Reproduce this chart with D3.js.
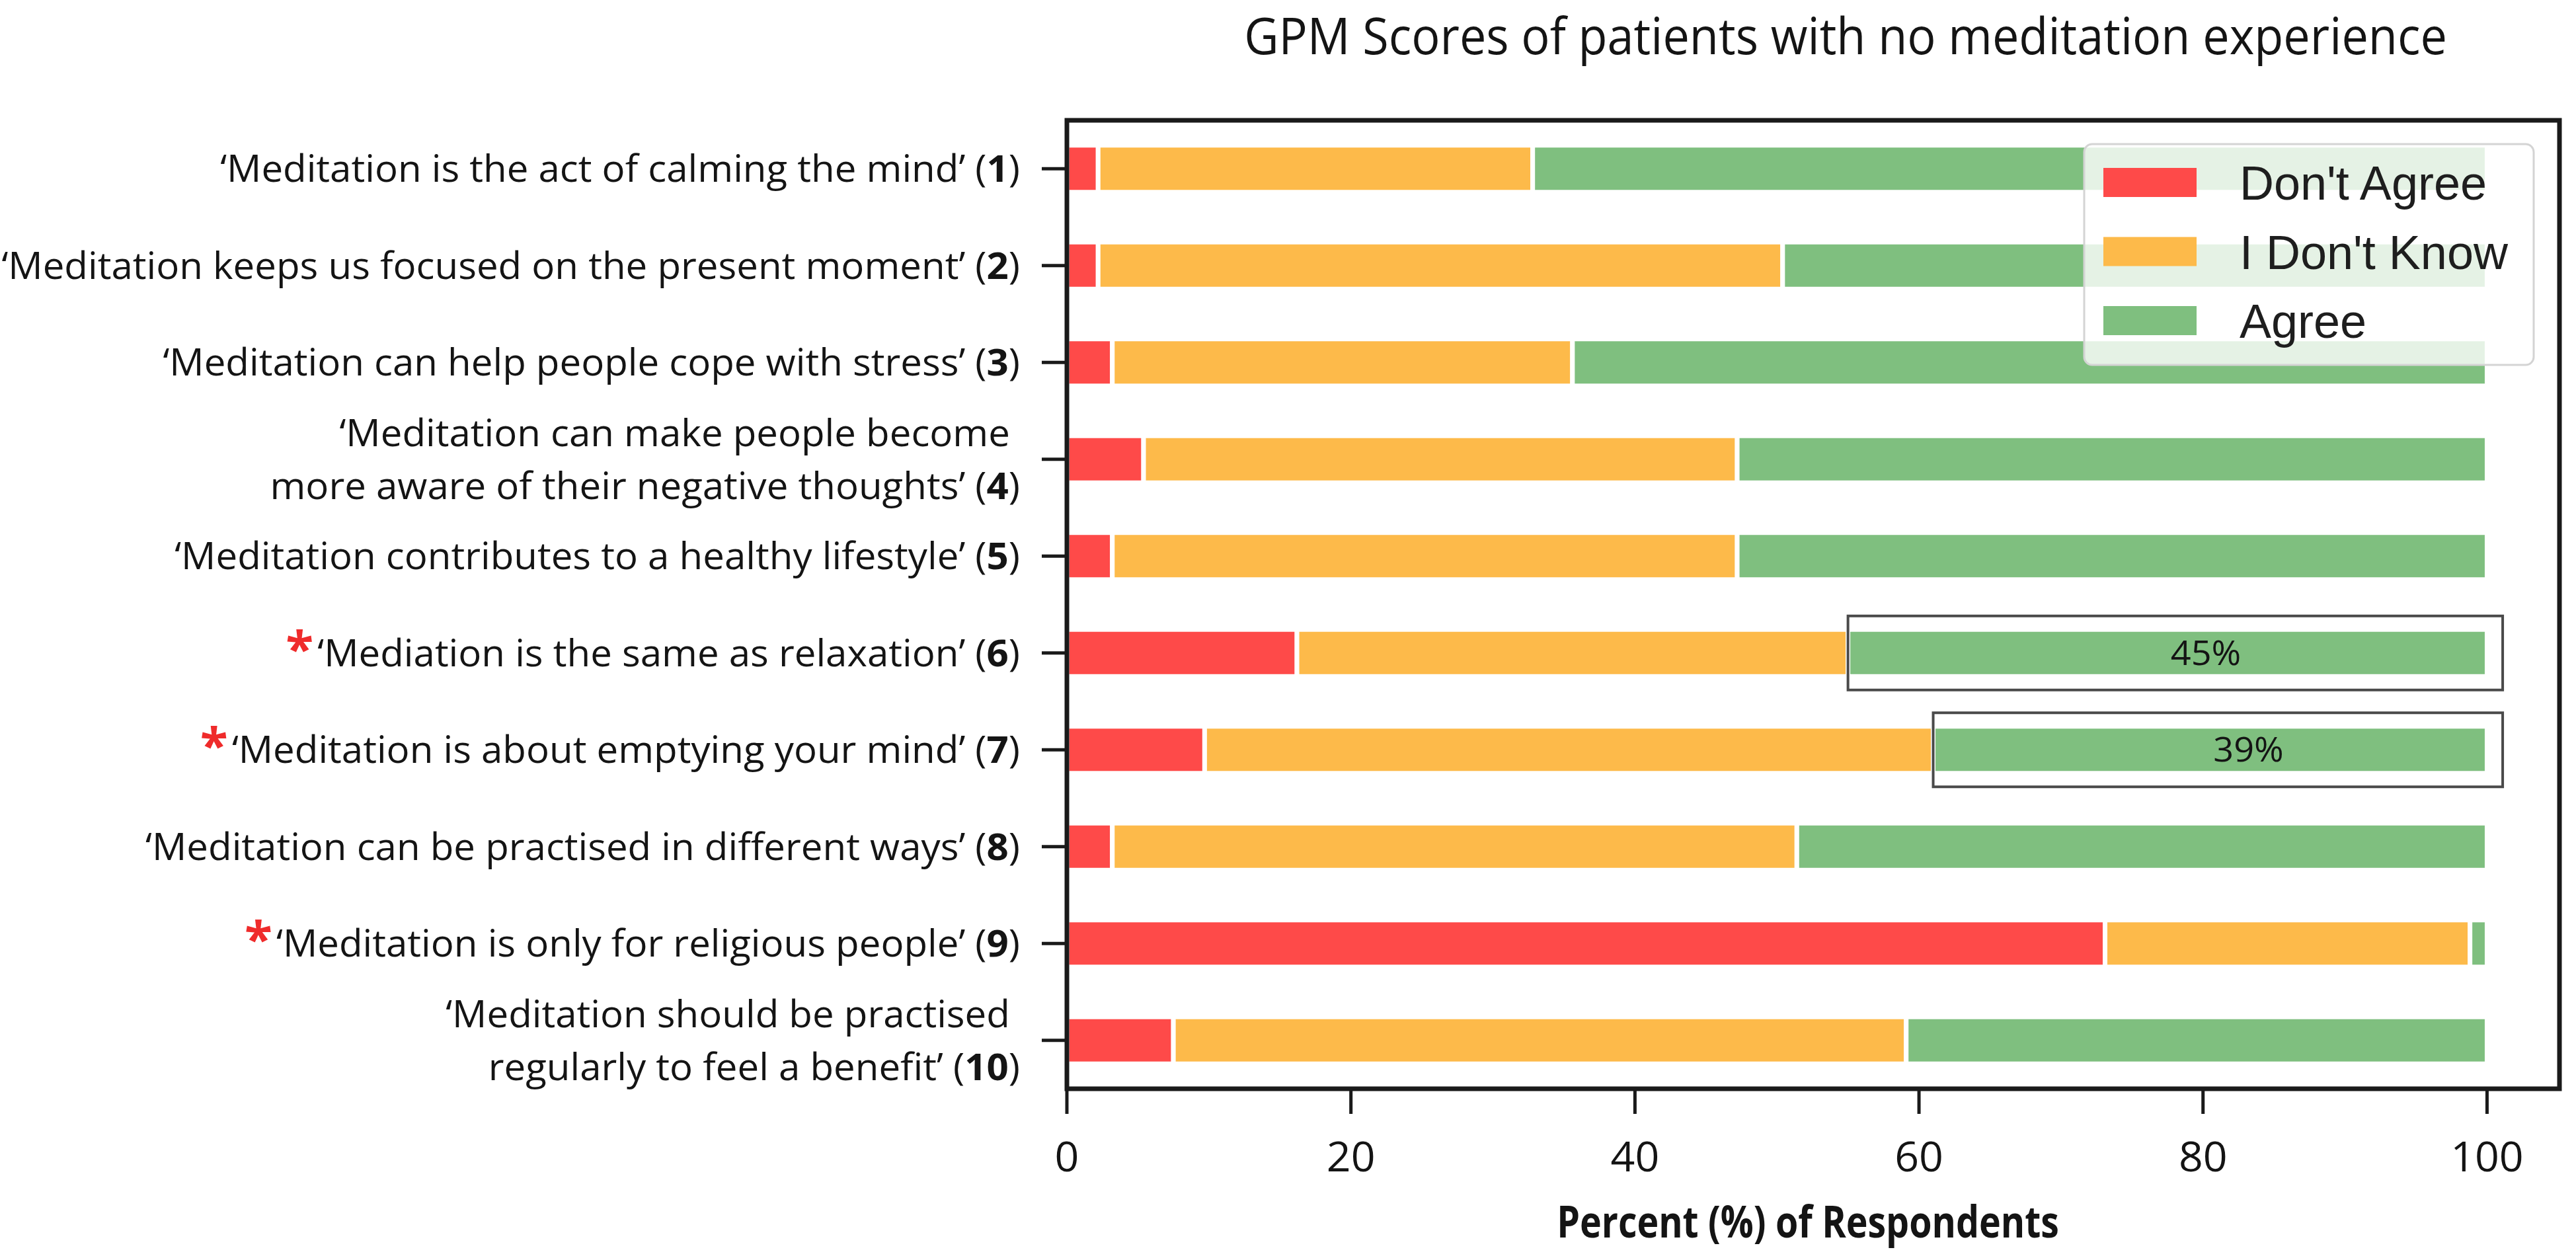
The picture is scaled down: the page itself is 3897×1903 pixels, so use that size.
<!DOCTYPE html>
<html>
<head>
<meta charset="utf-8">
<script src="https://cdn.jsdelivr.net/npm/d3@7"></script>
<style>
  body { margin: 0; background: #fff; }
  text { font-family: "Open Sans", sans-serif; fill: #141414; }
  .legend text { font-family: "Liberation Sans", Arial, sans-serif; fill: #1e1e1e; }
</style>
</head>
<body>
<svg id="chart" width="3897" height="1903"></svg>
<script>

// statements (one entry per line of the label)
var statements = [
    ["‘Meditation is the act of calming the mind’"],
    ["‘Meditation keeps us focused on the present moment’"],
    ["‘Meditation can help people cope with stress’"],
    ["‘Meditation can make people become\u00a0", "more aware of their negative thoughts’"],
    ["‘Meditation contributes to a healthy lifestyle’"],
    ["‘Mediation is the same as relaxation’"],
    ["‘Meditation is about emptying your mind’"],
    ["‘Meditation can be practised in different ways’"],
    ["‘Meditation is only for religious people’"],
    ["‘Meditation should be practised\u00a0", "regularly to feel a benefit’"]
];
var starred = [false, false, false, false, false, true, true, false, true, false];

var dontAgree = [2.2, 2.2, 3.2, 5.4, 3.2, 16.2, 9.7, 3.2, 73.1, 7.5];
var dontKnow  = [30.6, 48.2, 32.4, 41.8, 44.0, 38.8, 51.3, 48.2, 25.7, 51.6];
var agree     = [67.2, 49.6, 64.4, 52.8, 52.8, 45.0, 39.0, 48.6, 1.2, 40.9];

var series = ["Don't Agree", "I Don't Know", "Agree"];
var colors = ["#fe4a49", "#fdba4a", "#7fbf7f"];
var xTicks = [0, 20, 40, 60, 80, 100];

// rows that get a box round the Agree part
var boxedRows = [5, 6];
var boxedText = ["45%", "39%"];

var svg = d3.select("#chart");

var plotL = 1614, plotR = 3872, plotT = 182, plotB = 1647;

var x = d3.scaleLinear().domain([0, 105.1]).range([plotL, plotR]);
var y = d3.scaleBand().domain(d3.range(statements.length)).range([plotT, plotB]);
var barH = y.step() * 0.485;
function cy(i) { return y(i) + y.bandwidth() / 2; }

var rows = statements.map(function(s, i) {
    return { i: i, "Don't Agree": dontAgree[i], "I Don't Know": dontKnow[i], "Agree": agree[i] };
});
var stacked = d3.stack().keys(series)(rows);

svg.append("g")
    .selectAll("g")
    .data(stacked)
    .join("g")
    .attr("fill", function(d, i) { return colors[i]; })
    .selectAll("rect")
    .data(function(d) { return d; })
    .join("rect")
    .attr("x", function(d) { return x(d[0]); })
    .attr("width", function(d) { return x(d[1]) - x(d[0]); })
    .attr("y", function(d) { return cy(d.data.i) - barH / 2; })
    .attr("height", barH)
    .attr("stroke", "#fff")
    .attr("stroke-width", 7);

// boxes round highlighted agree segments
var agreeLayer = stacked[2];
var boxes = svg.append("g");
boxedRows.forEach(function(r, j) {
    var seg = agreeLayer[r];
    boxes.append("rect")
        .attr("x", x(seg[0]))
        .attr("width", x(101.1) - x(seg[0]))
        .attr("y", cy(r) - 56)
        .attr("height", 112)
        .attr("fill", "none")
        .attr("stroke", "#4a4a4a")
        .attr("stroke-width", 4);
    boxes.append("text")
        .attr("class", "pct")
        .datum({ x: x((seg[0] + seg[1]) / 2 + 2.7), y: cy(r) + 18 })
        .attr("text-anchor", "middle")
        .attr("font-size", 52)
        .text(boxedText[j]);
});

// frame
svg.append("rect")
    .attr("x", plotL).attr("y", plotT)
    .attr("width", plotR - plotL).attr("height", plotB - plotT)
    .attr("fill", "none")
    .attr("stroke", "#1a1a1a")
    .attr("stroke-width", 7);

// y ticks
svg.append("g").selectAll("line")
    .data(d3.range(statements.length))
    .join("line")
    .attr("x1", plotL - 38).attr("x2", plotL)
    .attr("y1", cy).attr("y2", cy)
    .attr("stroke", "#1a1a1a").attr("stroke-width", 5);

// x ticks
svg.append("g").selectAll("line")
    .data(xTicks)
    .join("line")
    .attr("x1", x).attr("x2", x)
    .attr("y1", plotB).attr("y2", plotB + 38)
    .attr("stroke", "#1a1a1a").attr("stroke-width", 5);

svg.append("g").selectAll("text")
    .data(xTicks)
    .join("text")
    .attr("class", "xlab")
    .datum(function(d) { return { x: x(d), y: 1772, v: d }; })
    .attr("text-anchor", "middle")
    .attr("font-size", 62)
    .text(function(d) { return d.v; });

// y labels
var labelG = svg.append("g");
statements.forEach(function(lines, i) {
    lines.forEach(function(line, j) {
        var off = lines.length == 2 ? (j == 0 ? -40 : 40) : 0;
        var t = labelG.append("text")
            .attr("class", "ylab")
            .datum({ x: 1543, y: cy(i) + 20 + off })
            .attr("text-anchor", "end")
            .attr("font-size", 56);
        if (j == 0 && starred[i]) {
            t.append("tspan").attr("font-size", 74).attr("font-weight", "bold").style("fill", "#ef2b2b").text("*");
            t.append("tspan").attr("dx", 6).text(line);
        } else {
            t.append("tspan").text(line);
        }
        if (j == lines.length - 1) {
            t.append("tspan").text(" (");
            t.append("tspan").attr("font-weight", "bold").text(i + 1);
            t.append("tspan").text(")");
        }
    });
});

// condensed look: squeeze text horizontally
function place(sel, k) {
    sel.attr("transform", function(d) { return "translate(" + d.x + "," + d.y + ") scale(" + k + ",1)"; });
}
var first = labelG.select("text").node();
var k = 1210 / first.getComputedTextLength();
place(labelG.selectAll("text"), k);
place(svg.selectAll(".xlab"), k);
place(svg.selectAll(".pct"), k);

// title
var title = svg.append("text")
    .datum({ x: 2792, y: 82 })
    .attr("text-anchor", "middle")
    .attr("font-size", 76)
    .text("GPM Scores of patients with no meditation experience");
place(title, 1820 / title.node().getComputedTextLength());

var xTitle = svg.append("text")
    .datum({ x: 2735, y: 1872 })
    .attr("text-anchor", "middle")
    .attr("font-size", 66)
    .attr("font-weight", "bold")
    .text("Percent (%) of Respondents");
place(xTitle, 760 / xTitle.node().getComputedTextLength());

// legend
var legend = svg.append("g").attr("class", "legend");
legend.append("rect")
    .attr("x", 3153).attr("y", 218)
    .attr("width", 680).attr("height", 334)
    .attr("rx", 12)
    .attr("fill", "#fff").attr("fill-opacity", 0.8)
    .attr("stroke", "#d4d4d4").attr("stroke-width", 3);
var items = legend.selectAll("g.item")
    .data(series)
    .join("g")
    .attr("class", "item")
    .attr("transform", function(d, i) { return "translate(3182," + (276 + i * 104.5) + ")"; });
items.append("rect")
    .attr("x", 0).attr("y", -22)
    .attr("width", 141).attr("height", 44)
    .attr("fill", function(d, i) { return colors[i]; });
items.append("text")
    .attr("x", 206).attr("y", 26)
    .attr("font-size", 72)
    .text(function(d) { return d; });

</script>
</body>
</html>
